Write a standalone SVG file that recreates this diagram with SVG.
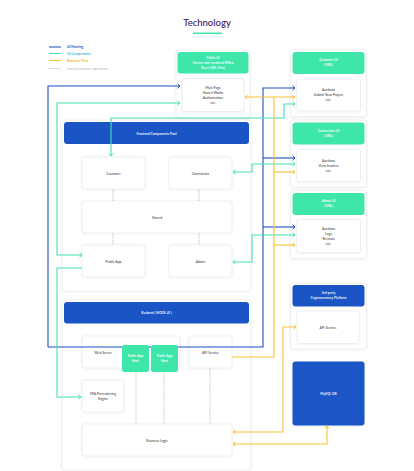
<svg xmlns="http://www.w3.org/2000/svg" width="414" height="471" viewBox="0 0 414 471">
<defs>
<style>
.t{font-family:Lato,"Liberation Sans",sans-serif;}
.title{font-size:9.5px;fill:#3d1762;font-weight:500;}
.leg{font-size:3.4px;font-weight:700;}
.wt{font-size:3.3px;fill:#ffffff;font-weight:600;}
.ct{font-size:3.4px;fill:#333;}
.outer{fill:#fff;stroke:#ececec;stroke-width:0.8;}
.card{fill:#fff;stroke:#e6e6e6;stroke-width:0.6;}
.green{fill:#3ee6a9;}
.blue{fill:#1b55c5;}
.cb{fill:none;stroke:#1f4fc2;stroke-width:1.1;}
.cg{fill:none;stroke:#45dfb7;stroke-width:1.1;}
.cy{fill:none;stroke:#f6c234;stroke-width:1.1;}
.dot{fill:none;stroke:#9a9a9a;stroke-width:0.6;stroke-dasharray:1 0.8;}
</style>
<filter id="sh" x="-10%" y="-10%" width="120%" height="130%">
<feDropShadow dx="0" dy="0.6" stdDeviation="0.8" flood-color="#000" flood-opacity="0.08"/>
</filter>
<marker id="ab" markerWidth="6" markerHeight="6" refX="4" refY="3" orient="auto-start-reverse" markerUnits="userSpaceOnUse"><path d="M1.5,0.8 L4,3 L1.5,5.2" fill="none" stroke="#1f4fc2" stroke-width="1"/></marker>
<marker id="ag" markerWidth="6" markerHeight="6" refX="4" refY="3" orient="auto-start-reverse" markerUnits="userSpaceOnUse"><path d="M1.5,0.8 L4,3 L1.5,5.2" fill="none" stroke="#45dfb7" stroke-width="1"/></marker>
<marker id="ay" markerWidth="6" markerHeight="6" refX="4" refY="3" orient="auto-start-reverse" markerUnits="userSpaceOnUse"><path d="M1.5,0.8 L4,3 L1.5,5.2" fill="none" stroke="#f6c234" stroke-width="1"/></marker>
</defs>
<rect width="414" height="471" fill="#fff"/>

<g id="title">
<text class="t title" x="207" y="26" text-anchor="middle">Technology</text>
<rect x="193" y="32.5" width="29" height="1.6" fill="#3ee6a9"/>
</g>

<g id="legend">
<line x1="49" y1="47" x2="61" y2="47" stroke="#1f4fc2" stroke-width="1"/>
<text class="t leg" x="67" y="48.2" fill="#1f4fc2">UI Hosting</text>
<line x1="49" y1="53.5" x2="61" y2="53.5" stroke="#45dfb7" stroke-width="1"/>
<text class="t leg" x="67" y="54.7" fill="#3fb8d8">UI Components</text>
<line x1="49" y1="60.5" x2="61" y2="60.5" stroke="#f6c234" stroke-width="1"/>
<text class="t leg" x="67" y="61.7" fill="#f0b820">Business Flow</text>
<line x1="49" y1="68.5" x2="61" y2="68.5" class="dot"/>
<text class="t leg" x="67" y="69.7" fill="#c8c8c8" font-weight="400">Internal content operations</text>
</g>

<g id="public-ui">
<rect class="outer" x="176" y="50" width="74" height="68" rx="3" filter="url(#sh)"/>
<rect class="green" x="177.5" y="52" width="71" height="21.5" rx="3"/>
<text class="t wt" x="213" y="58.5" text-anchor="middle">Public UI</text>
<text class="t wt" x="213" y="63.5" text-anchor="middle">( Server side rendered SPA in</text>
<text class="t wt" x="213" y="68.5" text-anchor="middle">React SSR ) Pool</text>
<rect class="card" x="182" y="78.5" width="62" height="33" rx="3" filter="url(#sh)"/>
<text class="t ct" x="213" y="89" text-anchor="middle">Main Page</text>
<text class="t ct" x="213" y="94" text-anchor="middle">How it Works</text>
<text class="t ct" x="213" y="99" text-anchor="middle">Authorization</text>
<text class="t ct" x="213" y="104" text-anchor="middle">etc.</text>
</g>

<g id="customer-ui">
<rect class="outer" x="290.5" y="49.5" width="76" height="67" rx="3" filter="url(#sh)"/>
<rect class="green" x="292.5" y="52" width="72" height="22" rx="3"/>
<text class="t wt" x="328.5" y="61" text-anchor="middle">Customer UI</text>
<text class="t wt" x="328.5" y="66" text-anchor="middle">( SPA )</text>
<rect class="card" x="296.5" y="79" width="64" height="32" rx="3" filter="url(#sh)"/>
<text class="t ct" x="328.5" y="91" text-anchor="middle">Auctions</text>
<text class="t ct" x="328.5" y="96" text-anchor="middle">Submit New Project</text>
<text class="t ct" x="328.5" y="101" text-anchor="middle">etc.</text>
</g>

<g id="contractors-ui">
<rect class="outer" x="290.5" y="120" width="76" height="67" rx="3" filter="url(#sh)"/>
<rect class="green" x="292.5" y="122.5" width="72" height="22" rx="3"/>
<text class="t wt" x="328.5" y="131.5" text-anchor="middle">Contractors UI</text>
<text class="t wt" x="328.5" y="136.5" text-anchor="middle">( SPA )</text>
<rect class="card" x="296.5" y="149.5" width="64" height="32" rx="3" filter="url(#sh)"/>
<text class="t ct" x="328.5" y="161.5" text-anchor="middle">Auctions</text>
<text class="t ct" x="328.5" y="166.5" text-anchor="middle">View Invoices</text>
<text class="t ct" x="328.5" y="171.5" text-anchor="middle">etc.</text>
</g>

<g id="admin-ui">
<rect class="outer" x="290.5" y="190.5" width="76" height="68" rx="3" filter="url(#sh)"/>
<rect class="green" x="292.5" y="193" width="72" height="22" rx="3"/>
<text class="t wt" x="328.5" y="202" text-anchor="middle">Admin UI</text>
<text class="t wt" x="328.5" y="207" text-anchor="middle">( SPA )</text>
<rect class="card" x="296.5" y="219.5" width="64" height="33" rx="3" filter="url(#sh)"/>
<text class="t ct" x="328.5" y="229.5" text-anchor="middle">Auctions</text>
<text class="t ct" x="328.5" y="234.5" text-anchor="middle">Logs</text>
<text class="t ct" x="328.5" y="239.5" text-anchor="middle">Reviews</text>
<text class="t ct" x="328.5" y="244.5" text-anchor="middle">etc.</text>
</g>

<g id="crypto-platform">
<rect class="outer" x="290.5" y="283" width="76" height="66" rx="3" filter="url(#sh)"/>
<rect class="blue" x="292.5" y="285" width="72" height="21.5" rx="3"/>
<text class="t wt" x="328.5" y="293.5" text-anchor="middle">3rd-party</text>
<text class="t wt" x="328.5" y="298.5" text-anchor="middle">Cryptocurrency Platform</text>
<rect class="card" x="297" y="311" width="62" height="32.5" rx="3" filter="url(#sh)"/>
<text class="t ct" x="328" y="328.5" text-anchor="middle">API Service</text>
</g>

<g id="mysql-db">
<rect class="blue" x="292.5" y="361.5" width="72" height="64" rx="3" filter="url(#sh)"/>
<text class="t wt" x="328.5" y="395" text-anchor="middle" font-size="4.2">MySQL DB</text>
</g>

<g id="frontend-pool">
<rect class="outer" x="62" y="120" width="189" height="171" rx="3" filter="url(#sh)"/>
<rect class="blue" x="64" y="122" width="185" height="22" rx="3"/>
<text class="t wt" x="156.5" y="134.5" text-anchor="middle">Frontend Components Pool</text>
</g>
<g id="customer">
<rect class="card" x="82" y="157" width="63" height="32" rx="3" filter="url(#sh)"/>
<text class="t ct" x="113.5" y="174.5" text-anchor="middle">Customer</text>
</g>
<g id="contractors">
<rect class="card" x="169" y="157" width="63" height="32" rx="3" filter="url(#sh)"/>
<text class="t ct" x="200.5" y="174.5" text-anchor="middle">Contractors</text>
</g>
<g id="shared">
<rect class="card" x="82" y="201" width="150" height="32" rx="3" filter="url(#sh)"/>
<text class="t ct" x="157" y="218.5" text-anchor="middle">Shared</text>
</g>
<g id="public-app">
<rect class="card" x="82" y="245" width="63" height="32" rx="3" filter="url(#sh)"/>
<text class="t ct" x="113.5" y="262.5" text-anchor="middle">Public App</text>
</g>
<g id="admin">
<rect class="card" x="169" y="245" width="63" height="32" rx="3" filter="url(#sh)"/>
<text class="t ct" x="200.5" y="262.5" text-anchor="middle">Admin</text>
</g>

<g id="backend">
<rect class="outer" x="62" y="300" width="189" height="170" rx="3" filter="url(#sh)"/>
<rect class="blue" x="64" y="302" width="185" height="21.5" rx="3"/>
<text class="t wt" x="156.5" y="314" text-anchor="middle">Backend ( NODE.JS )</text>
</g>
<g id="web-server">
<rect class="card" x="82" y="336" width="98" height="32" rx="3" filter="url(#sh)"/>
<text class="t ct" x="103" y="353.5" text-anchor="middle">Web Server</text>
</g>
<g id="api-service">
<rect class="card" x="189" y="336" width="43" height="32" rx="3" filter="url(#sh)"/>
<text class="t ct" x="210.5" y="353.5" text-anchor="middle">API Service</text>
</g>
<g id="spa-engine">
<rect class="card" x="82" y="380" width="42" height="32" rx="3" filter="url(#sh)"/>
<text class="t ct" x="103" y="395" text-anchor="middle">SPA Prerendering</text>
<text class="t ct" x="103" y="400" text-anchor="middle">Engine</text>
</g>
<g id="business-logic">
<rect class="card" x="82" y="424" width="150" height="32" rx="3" filter="url(#sh)"/>
<text class="t ct" x="157" y="441.5" text-anchor="middle">Business Logic</text>
</g>

<g id="connectors">
<path class="dot" d="M113 189 V201 M199 189 V201 M113 233 V245 M199 233 V245"/>
<path class="dot" d="M136 372 V424 M164 372 V424 M210 368 V424"/>
<path class="cb" d="M48 347 V86 H180" marker-end="url(#ab)"/>
<path class="cb" d="M48 347 H263 V88 H295" marker-end="url(#ab)"/>
<path class="cb" d="M263 158 H295" marker-end="url(#ab)"/>
<path class="cb" d="M263 227 H295" marker-end="url(#ab)"/>
<path class="cg" d="M82 255 H57 V103 H180" marker-start="url(#ag)" marker-end="url(#ag)"/>
<path class="cg" d="M82 268 H57 V397 H81" marker-end="url(#ag)"/>
<path class="cg" d="M111 156 V118 H284 V104 H295" marker-start="url(#ag)" marker-end="url(#ag)"/>
<path class="cg" d="M233 172 H252 V164 H295" marker-start="url(#ag)" marker-end="url(#ag)"/>
<path class="cg" d="M233 262 H252 V235 H295" marker-start="url(#ag)" marker-end="url(#ag)"/>
<path class="cy" d="M245 97 H295" marker-start="url(#ay)" marker-end="url(#ay)"/>
<path class="cy" d="M232 357 H274 V97"/>
<path class="cy" d="M274 172 H295" marker-end="url(#ay)"/>
<path class="cy" d="M274 245 H295" marker-end="url(#ay)"/>
<path class="cy" d="M233 432 H283 V327 H296" marker-start="url(#ay)" marker-end="url(#ay)"/>
<path class="cy" d="M233 444 H327 V426" marker-start="url(#ay)" marker-end="url(#ay)"/>
</g>

<g id="public-app-host-1">
<rect class="green" x="122" y="345" width="27" height="27" rx="2.5"/>
<text class="t wt" x="135.5" y="357" text-anchor="middle">Public App</text>
<text class="t wt" x="135.5" y="361.5" text-anchor="middle">Host</text>
</g>
<g id="public-app-host-2">
<rect class="green" x="151" y="345" width="27" height="27" rx="2.5"/>
<text class="t wt" x="164.5" y="357" text-anchor="middle">Public App</text>
<text class="t wt" x="164.5" y="361.5" text-anchor="middle">Host</text>
</g>
</svg>
